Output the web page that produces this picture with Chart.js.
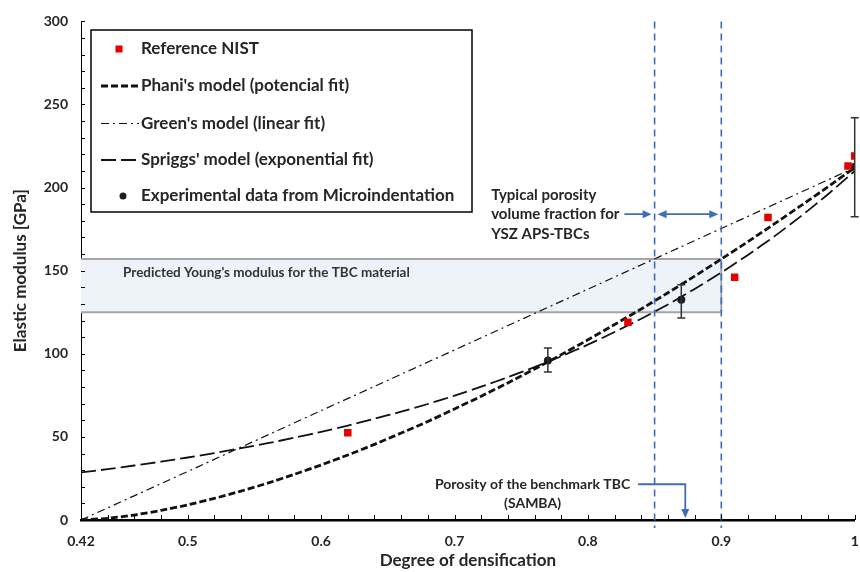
<!DOCTYPE html>
<html>
<head>
<meta charset="utf-8">
<script src="https://cdn.jsdelivr.net/npm/chart.js@4.4.1/dist/chart.umd.min.js"></script>
<style>
    html, body { margin: 0; padding: 0; background: #fff; }
    #wrap { width: 860px; height: 572px; overflow: hidden; }
</style>
</head>
<body>
<div id="wrap"><canvas id="modulusChart" width="860" height="572"></canvas></div>
<script>
const FONT = "Lato, 'Open Sans', sans-serif";
const TEXT = '#262626';
const BLUE = '#3E6DBA';

// axis ticks
const xTickValues = [0.42, 0.5, 0.6, 0.7, 0.8, 0.9, 1];
const yTickStep = 50;

// reference values (NIST)
const nistDensity = [0.62, 0.83, 0.91, 0.935, 0.995, 1.0];
const nistModulus = [52.5, 119, 146, 182, 213, 219];

// model curves
const modelDensity = [0.42, 0.44, 0.46, 0.48, 0.50, 0.52, 0.54, 0.56, 0.58, 0.60,
    0.62, 0.64, 0.66, 0.68, 0.70, 0.72, 0.74, 0.76, 0.78, 0.80,
    0.82, 0.84, 0.86, 0.88, 0.90, 0.92, 0.94, 0.96, 0.98, 1.00];
const phaniModulus = [0, 1.0, 3.0, 5.8, 9.1, 13.0, 17.4, 22.2, 27.5, 33.1,
    39.1, 45.5, 52.3, 59.3, 66.8, 74.5, 82.5, 90.8, 99.5, 108.4,
    117.6, 127.0, 136.7, 146.7, 157.0, 167.5, 178.3, 189.3, 200.5, 212];
const spriggsModulus = [28.6, 30.6, 32.8, 35.1, 37.6, 40.3, 43.2, 46.2, 49.5, 53.0,
    56.8, 60.9, 65.2, 69.8, 74.8, 80.2, 85.9, 92.0, 98.5, 105.5,
    113.1, 121.1, 129.7, 139.0, 148.9, 159.5, 170.8, 183.0, 196.0, 210];
const greenDensity = [0.42, 0.5, 0.6, 0.7, 0.8, 0.9, 1.0];
const greenModulus = [0, 29.2, 65.8, 102.3, 138.9, 175.4, 212];

// microindentation measurements with min / max
const expDensity = [0.77, 0.87, 1.0];
const expModulus = [96, 132.5, 212.5];
const expLow = [89, 121.5, 182.5];
const expHigh = [103.5, 141.5, 242];

// annotations
const predictedBand = [125, 157];
const typicalRange = [0.85, 0.9];
const sambaDensity = 0.873;

const pts = (xs, ys) => xs.map((x, i) => ({ x, y: ys[i] }));
const font = (size) => `bold ${size}px ${FONT}`;

function arrowHead(ctx, x, y, dir) {
    // dir: 1 = pointing right, -1 = left, 2 = down
    ctx.beginPath();
    if (dir === 2) {
        ctx.moveTo(x, y);
        ctx.lineTo(x - 4, y - 9);
        ctx.lineTo(x + 4, y - 9);
    } else {
        ctx.moveTo(x, y);
        ctx.lineTo(x - dir * 9, y - 4);
        ctx.lineTo(x - dir * 9, y + 4);
    }
    ctx.closePath();
    ctx.fill();
}

const decor = {
    id: 'decor',
    beforeDatasetsDraw(chart) {
        const { ctx, scales: { x, y } } = chart;
        const left = x.getPixelForValue(0.42);
        const right = x.getPixelForValue(typicalRange[1]);
        const top = y.getPixelForValue(predictedBand[1]);
        const bottom = y.getPixelForValue(predictedBand[0]);
        ctx.save();
        ctx.fillStyle = '#EEF3FA';
        ctx.fillRect(left, top, right - left, bottom - top);
        ctx.strokeStyle = '#A5A5A5';
        ctx.lineWidth = 2;
        ctx.beginPath();
        ctx.moveTo(left, top); ctx.lineTo(right, top);
        ctx.moveTo(left, bottom); ctx.lineTo(right, bottom);
        ctx.moveTo(right, top); ctx.lineTo(right, bottom);
        ctx.stroke();
        ctx.fillStyle = '#333';
        ctx.font = font(13.5);
        ctx.textAlign = 'center';
        ctx.textBaseline = 'middle';
        ctx.fillText("Predicted Young's modulus for the TBC material",
            x.getPixelForValue(0.559), y.getPixelForValue(149));
        ctx.restore();
    },
    afterDatasetsDraw(chart) {
        const { ctx, chartArea, scales: { x, y } } = chart;
        ctx.save();

        // error bars
        ctx.strokeStyle = '#333';
        ctx.lineWidth = 1.5;
        expDensity.forEach((d, i) => {
            const px = x.getPixelForValue(d);
            const lo = y.getPixelForValue(expLow[i]);
            const hi = y.getPixelForValue(expHigh[i]);
            ctx.beginPath();
            ctx.moveTo(px, lo); ctx.lineTo(px, hi);
            ctx.moveTo(px - 4, lo); ctx.lineTo(px + 4, lo);
            ctx.moveTo(px - 4, hi); ctx.lineTo(px + 4, hi);
            ctx.stroke();
        });

        // typical porosity limits
        const x0 = x.getPixelForValue(typicalRange[0]);
        const x1 = x.getPixelForValue(typicalRange[1]);
        ctx.strokeStyle = BLUE;
        ctx.lineWidth = 1.6;
        ctx.setLineDash([7, 5]);
        ctx.beginPath();
        [x0, x1].forEach(px => {
            ctx.moveTo(px, chartArea.top);
            ctx.lineTo(px, chartArea.bottom + 8);
        });
        ctx.stroke();
        ctx.setLineDash([]);

        // typical porosity label + arrows
        ctx.fillStyle = TEXT;
        ctx.font = font(15);
        ctx.textAlign = 'left';
        ctx.textBaseline = 'middle';
        const tx = x.getPixelForValue(0.7275);
        const ay = y.getPixelForValue(184);
        ctx.fillText('Typical porosity', tx, ay - 19.5);
        ctx.fillText('volume fraction for', tx, ay);
        ctx.fillText('YSZ APS-TBCs', tx, ay + 19.5);
        const textEnd = tx + ctx.measureText('volume fraction for').width;
        ctx.strokeStyle = BLUE;
        ctx.fillStyle = BLUE;
        ctx.lineWidth = 1.8;
        ctx.beginPath();
        ctx.moveTo(textEnd + 5, ay); ctx.lineTo(x0 - 6, ay);
        ctx.moveTo(x0 + 6, ay); ctx.lineTo(x1 - 6, ay);
        ctx.stroke();
        arrowHead(ctx, x0 - 3, ay, 1);
        arrowHead(ctx, x0 + 3, ay, -1);
        arrowHead(ctx, x1 - 3, ay, 1);

        // benchmark coating label + elbow arrow
        ctx.fillStyle = TEXT;
        ctx.font = font(14);
        ctx.textAlign = 'center';
        const sx = x.getPixelForValue(0.7585);
        const sy = y.getPixelForValue(21.5);
        ctx.fillText('Porosity of the benchmark TBC', sx, sy);
        ctx.fillText('(SAMBA)', sx, y.getPixelForValue(10));
        const sEnd = sx + ctx.measureText('Porosity of the benchmark TBC').width / 2;
        const bx = x.getPixelForValue(sambaDensity);
        const by = y.getPixelForValue(0) - 2;
        ctx.strokeStyle = BLUE;
        ctx.fillStyle = BLUE;
        ctx.beginPath();
        ctx.moveTo(sEnd + 8, sy); ctx.lineTo(bx, sy); ctx.lineTo(bx, by - 6);
        ctx.stroke();
        arrowHead(ctx, bx, by, 2);
        ctx.restore();
    },
    afterDraw(chart) {
        const { ctx, chartArea, scales: { x, y } } = chart;
        ctx.save();

        // minor ticks
        ctx.strokeStyle = '#000';
        ctx.lineWidth = 1;
        ctx.beginPath();
        for (let i = 0; i <= 29; i++) {
            const px = Math.round(x.getPixelForValue(0.42 + i * 0.02)) + 0.5;
            ctx.moveTo(px, chartArea.bottom);
            ctx.lineTo(px, chartArea.bottom - 5);
        }
        for (let v = 10; v <= 300; v += 10) {
            const py = Math.round(y.getPixelForValue(v)) + 0.5;
            ctx.moveTo(chartArea.left, py);
            ctx.lineTo(chartArea.left + 4, py);
        }
        ctx.stroke();

        // legend box
        const box = { left: 91, top: 30, right: 472, bottom: 212 };
        const rows = [49, 86, 123.5, 160, 196];
        ctx.fillStyle = '#fff';
        ctx.fillRect(box.left, box.top, box.right - box.left, box.bottom - box.top);
        ctx.strokeStyle = '#000';
        ctx.lineWidth = 1.5;
        ctx.strokeRect(box.left, box.top, box.right - box.left, box.bottom - box.top);

        ctx.font = font(17);
        ctx.textAlign = 'left';
        ctx.textBaseline = 'middle';
        chart.data.datasets.forEach((ds, i) => {
            const ry = rows[i];
            if (ds.showLine) {
                ctx.strokeStyle = ds.borderColor;
                ctx.lineWidth = ds.borderWidth;
                ctx.setLineDash(ds.borderDash);
                ctx.beginPath();
                ctx.moveTo(101, ry);
                ctx.lineTo(139, ry);
                ctx.stroke();
                ctx.setLineDash([]);
            } else if (ds.pointStyle === 'rect') {
                ctx.fillStyle = ds.backgroundColor;
                ctx.fillRect(115.5, ry - 3.5, 7, 7);
            } else {
                ctx.fillStyle = ds.backgroundColor;
                ctx.beginPath();
                ctx.arc(123, ry, 3.5, 0, Math.PI * 2);
                ctx.fill();
            }
            ctx.fillStyle = TEXT;
            ctx.fillText(ds.label, 141, ry);
        });
        ctx.restore();
    }
};

new Chart(document.getElementById('modulusChart'), {
    type: 'scatter',
    data: {
        datasets: [
            {
                label: 'Reference NIST',
                data: pts(nistDensity, nistModulus),
                showLine: false,
                pointStyle: 'rect',
                pointRadius: 5.3,
                backgroundColor: '#E60000',
                borderWidth: 0
            },
            {
                label: "Phani's model (potencial fit)",
                data: pts(modelDensity, phaniModulus),
                showLine: true,
                borderColor: '#111',
                borderWidth: 2.8,
                borderDash: [7, 3],
                pointRadius: 0,
                tension: 0.2
            },
            {
                label: "Green's model (linear fit)",
                data: pts(greenDensity, greenModulus),
                showLine: true,
                borderColor: '#111',
                borderWidth: 1.2,
                borderDash: [8, 4, 2, 4],
                pointRadius: 0
            },
            {
                label: "Spriggs' model (exponential fit)",
                data: pts(modelDensity, spriggsModulus),
                showLine: true,
                borderColor: '#111',
                borderWidth: 1.8,
                borderDash: [15, 5],
                pointRadius: 0,
                tension: 0.2
            },
            {
                label: 'Experimental data from Microindentation',
                data: pts(expDensity, expModulus),
                showLine: false,
                pointStyle: 'circle',
                pointRadius: 4,
                backgroundColor: '#1E1E1E',
                borderWidth: 0
            }
        ]
    },
    options: {
        responsive: false,
        animation: false,
        layout: { padding: { top: 18, right: -3, left: 0, bottom: 0 } },
        plugins: {
            legend: { display: false },
            tooltip: { enabled: false }
        },
        scales: {
            x: {
                type: 'linear',
                min: 0.42,
                max: 1,
                afterBuildTicks: s => { s.ticks = xTickValues.map(v => ({ value: v })); },
                afterFit: s => {
                    s.height = 52;
                    s.paddingRight = 0;
                },
                grid: { display: false, drawTicks: false },
                border: { display: true, color: '#000', width: 2.5 },
                ticks: {
                    padding: 13,
                    color: TEXT,
                    autoSkip: false,
                    maxRotation: 0,
                    font: { family: FONT, size: 14, weight: 'bold' },
                    callback: v => String(v)
                },
                title: {
                    display: true,
                    text: 'Degree of densification',
                    color: TEXT,
                    font: { family: FONT, size: 17, weight: 'bold' },
                    padding: { top: 0, bottom: 1 }
                }
            },
            y: {
                min: 0,
                max: 300,
                afterFit: s => { s.width = 81; },
                grid: { display: false, drawTicks: false },
                border: { display: true, color: '#000', width: 1 },
                ticks: {
                    stepSize: yTickStep,
                    padding: 13,
                    color: TEXT,
                    font: { family: FONT, size: 14, weight: 'bold' }
                },
                title: {
                    display: true,
                    text: 'Elastic modulus [GPa]',
                    color: TEXT,
                    font: { family: FONT, size: 17, weight: 'bold' },
                    padding: { top: 10, bottom: 0 }
                }
            }
        }
    },
    plugins: [decor]
});
</script>
</body>
</html>
